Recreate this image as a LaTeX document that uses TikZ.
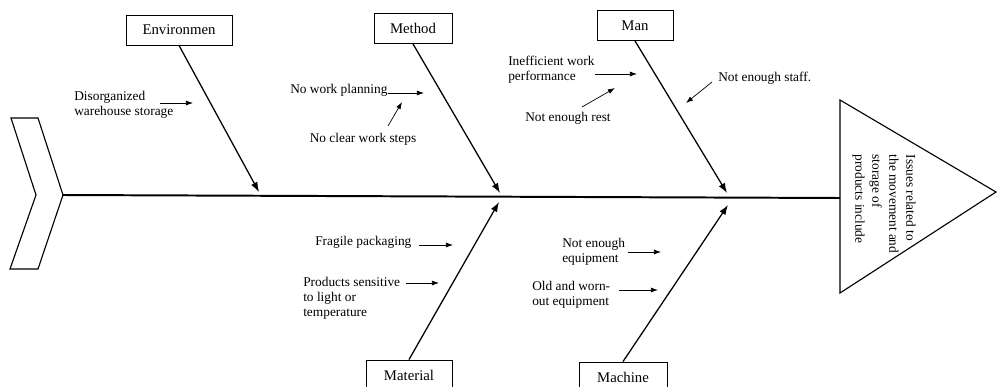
\documentclass[tikz,border=0pt]{standalone}
\usepackage{fontspec}
\setmainfont{Liberation Serif}
\usetikzlibrary{positioning}
\usetikzlibrary{arrows.meta,calc}
\tikzstyle{catbox}=[draw,line width=0.6pt,minimum height=0.75cm,inner sep=2pt,font=\fontsize{10.5}{12}\selectfont]
\tikzstyle{cause}=[align=left,inner sep=0pt,font=\fontsize{9.5}{10.7}\selectfont]
\tikzstyle{bone} = [draw,line width=0.9pt,-{Latex[length=7pt,width=5pt]}]
\tikzstyle{twig} = [draw,line width=0.5pt,-{Latex[length=5pt,width=3.5pt]}]
\tikzstyle{outline} = [draw,line width=0.8pt,line join=miter]

\begin{document}
\begin{tikzpicture}[x=0.025cm, y=-0.025cm]

  \useasboundingbox (0,0) rectangle (999,387);

  % tail and head of the fish
  \draw[outline] (11,118) -- (38,118) -- (63,195) -- (38,269) -- (10,269) -- (36,195) -- cycle;
  \draw[outline] (840,100) -- (996,192) -- (840,293) -- cycle;

  \coordinate (tail) at (63,195);
  \coordinate (head) at (840,198);
  \draw[line width=1.4pt] (tail) -- (head);

  \node[rotate=-90, align=left, inner sep=0pt, font=\fontsize{9.5}{12.1}\selectfont] (effect) at (884,204)
       {Issues related to\\the movement and\\storage of\\products include};

  % category boxes
  \foreach \name/\label/\x/\y/\w in {env/Environmen/179/30/2.65, meth/Method/413/28.5/1.95,
                                     man/Man/635/25.5/1.9, mat/Material/409/375/2.15, mach/Machine/623/377/2.2}
     \node[catbox, minimum width=\w cm] (\name) at (\x,\y) {\label};

  \foreach \name/\x/\y in {env/259/192, meth/500/193, man/727/193, mat/499/202, mach/728/205}
     \coordinate (\name tip) at (\x,\y);

  \foreach \source/\side in {env/south, meth/south, man/south, mat/north, mach/north}
     \draw[bone] (\source.\side) -- (\source tip);

  % causes
  \foreach \name/\x/\y/\pos/\label in {dis/74/105/west/{Disorganized\\warehouse storage},
        plan/290/90/west/{No work planning}, steps/363/139/center/{No clear work steps},
        perf/508/70/west/{Inefficient work\\performance}, rest/568/118/center/{Not enough rest},
        staff/718/78/west/{Not enough staff.}, frag/315/242/west/{Fragile packaging},
        sens/303/298/west/{Products sensitive\\to light or\\temperature},
        equip/562/252/west/{Not enough\\equipment}, worn/532/295/west/{Old and worn-\\out equipment}}
     \node[cause, anchor=\pos] (\name) at (\x,\y) {\label};

  \foreach \name/\xa/\ya/\xb/\yb in {dis/160/103/193/103, plan/388/93/424/93, steps/388/126/402/102,
        perf/595/74/637/74, rest/582/107/615/88, staff/712/82/686/103,
        frag/419/245/453/245, sens/406/283/439/283, equip/628/252/661/252, worn/619/290/658/290}
  {
     \coordinate (\name a) at (\xa,\ya);
     \coordinate (\name b) at (\xb,\yb);
     \draw[twig] (\name a) -- (\name b);
  }

\end{tikzpicture}
\end{document}
